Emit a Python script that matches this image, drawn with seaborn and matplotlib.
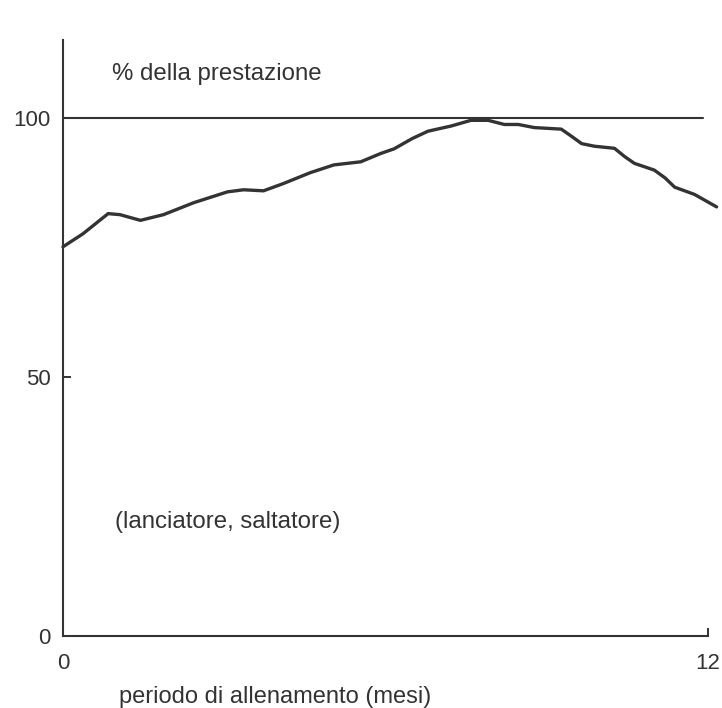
import matplotlib
matplotlib.use("Agg")
import matplotlib.pyplot as plt
import seaborn as sns
import pandas as pd

# performance curve (% della prestazione) over the training year
mesi = [0, 0.37, 0.84, 1.06, 1.44, 1.87, 2.43, 3.06, 3.36, 3.73, 4.1, 4.6, 5.04,
        5.54, 5.91, 6.16, 6.5, 6.79, 7.22, 7.59, 7.91, 8.21, 8.47, 8.77, 9.27,
        9.45, 9.65, 9.89, 10.26, 10.45, 10.63, 11.0, 11.2, 11.38, 11.75, 12.16]
prestazione = [75.1, 77.6, 81.5, 81.3, 80.2, 81.3, 83.6, 85.7, 86.1, 85.9, 87.3,
               89.4, 90.9, 91.5, 93.1, 94.0, 96.0, 97.4, 98.4, 99.5, 99.5, 98.7,
               98.7, 98.1, 97.8, 96.5, 95.0, 94.5, 94.1, 92.5, 91.2, 89.9, 88.4,
               86.6, 85.2, 82.8]
riferimento = 100
x_ticks = [0, 12]
y_ticks = [0, 50, 100]

df = pd.DataFrame({"mesi": mesi, "prestazione": prestazione})

sns.set_style("white")
plt.rcParams['font.family'] = ['Liberation Sans', 'DejaVu Sans']
ink = '#333333'

fig = plt.figure(figsize=(7.22, 7.08), dpi=100)
ax = fig.add_axes([63/722, 72/708, 645/722, 596/708])

sns.lineplot(data=df, x="mesi", y="prestazione", sort=False, ax=ax,
             color=ink, linewidth=2.4, clip_on=False)
ax.plot([0, 11.9], [riferimento, riferimento], color=ink, linewidth=1.5, clip_on=False)

ax.set_xlim(0, 12)
ax.set_ylim(0, 115)
ax.set_xticks(x_ticks)
ax.set_yticks(y_ticks)
ax.set_xlabel("")
ax.set_ylabel("")

for s in ['top', 'right']:
    ax.spines[s].set_visible(False)
for s in ['left', 'bottom']:
    ax.spines[s].set_color(ink)
    ax.spines[s].set_linewidth(1.5)

# seaborn's white style hides ticks, switch them back on (pointing inward)
ax.tick_params(axis='both', direction='in', length=6, width=1.4, colors=ink,
               labelsize=16, labelcolor=ink, left=True, bottom=True)
ax.tick_params(axis='y', pad=9)
ax.tick_params(axis='x', pad=12)

ax.text(0.92, 108.5, "% della prestazione", fontsize=17.3, color=ink, va='center')
ax.text(0.96, 22, "(lanciatore, saltatore)", fontsize=17.3, color=ink, va='center')
fig.text(119/722, 1 - 697/708, "periodo di allenamento (mesi)", fontsize=17,
         color=ink, va='center')

fig.savefig("out.png", dpi=100, facecolor='white')
